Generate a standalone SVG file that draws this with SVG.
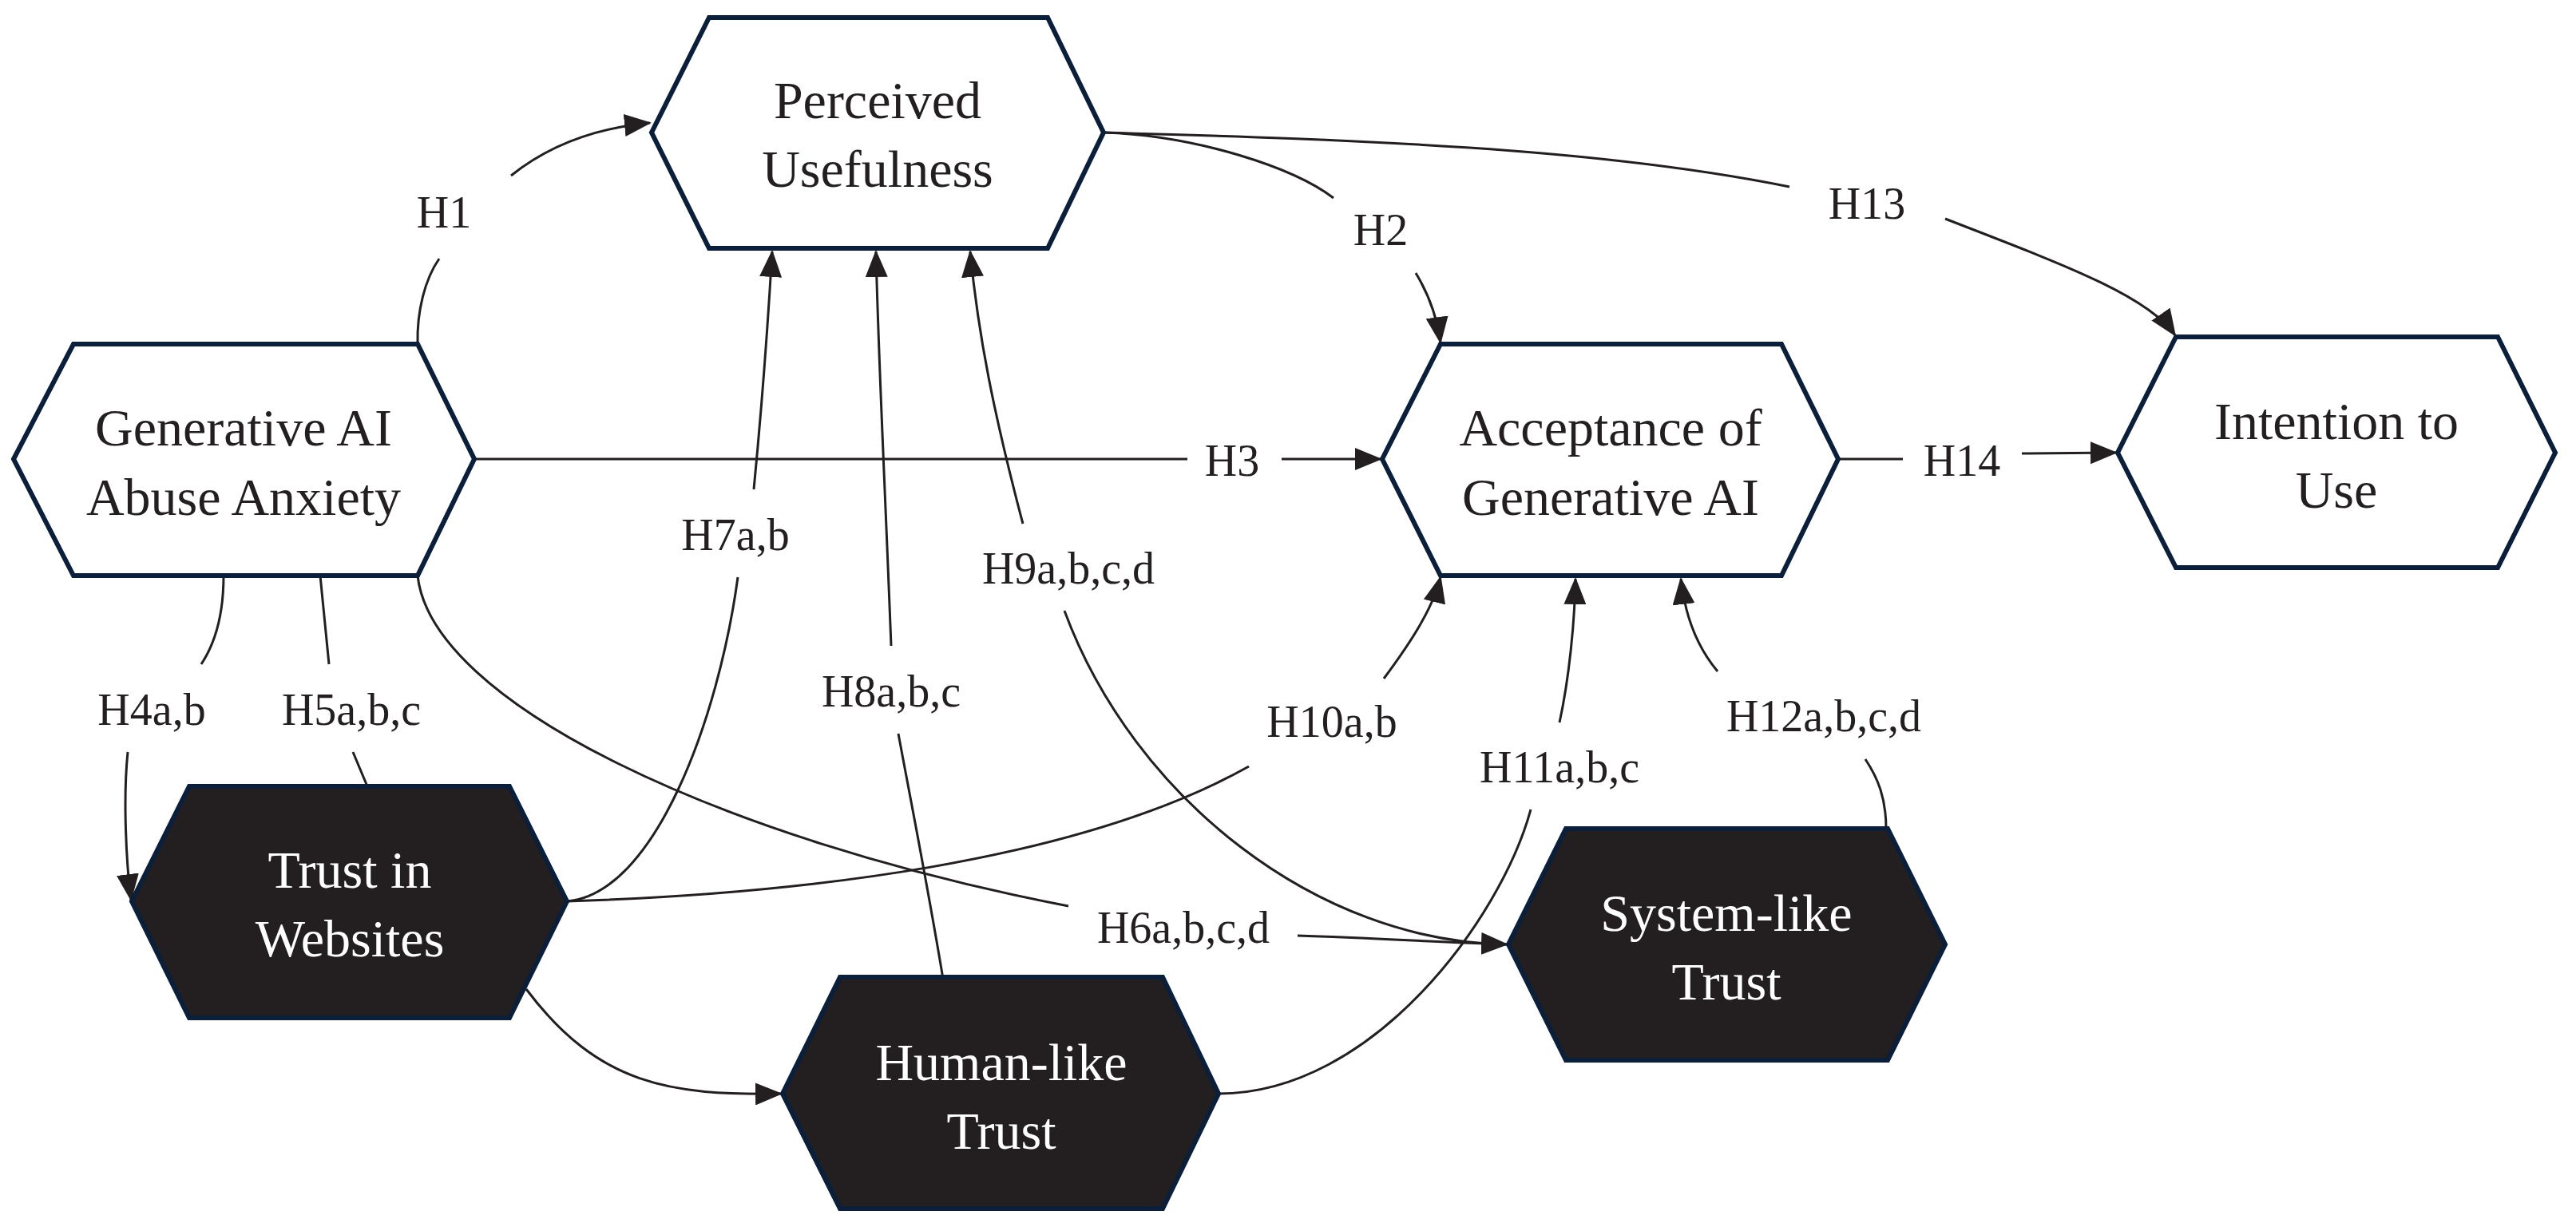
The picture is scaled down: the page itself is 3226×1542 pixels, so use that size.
<svg xmlns="http://www.w3.org/2000/svg" width="3226" height="1542" viewBox="0 0 3226 1542">
<style>
.hex{stroke:#0b1f3a;stroke-width:6;stroke-linejoin:miter}
.w{fill:#ffffff}.d{fill:#231f20}
.nt{font-family:"Liberation Serif",serif;font-size:66px;text-anchor:middle}
.nw{fill:#231f20}.nb{fill:#ffffff}
.lb{font-family:"Liberation Serif",serif;font-size:56px;text-anchor:middle;fill:#231f20}
.c{fill:none;stroke:#231f20;stroke-width:3}
</style>
<defs>
<marker id="a" markerUnits="userSpaceOnUse" markerWidth="34" markerHeight="28" refX="32" refY="14" orient="auto"><path d="M0,0 L34,14 L0,28 Z" fill="#231f20"/></marker>
</defs>
<g id="connectors">
<path class="c" d="M523,431 C522,390 532,350 550,324"/>
<path class="c" d="M640,220 C690,180 750,160 814,154" marker-end="url(#a)"/>
<path class="c" d="M1382,166 C1500,170 1620,210 1670,248"/>
<path class="c" d="M1773,342 C1790,370 1800,400 1804,429" marker-end="url(#a)"/>
<path class="c" d="M1382,166 C1700,175 2000,185 2241,234"/>
<path class="c" d="M2436,274 C2580,330 2690,370 2724,420" marker-end="url(#a)"/>
<path class="c" d="M594,575 L1487,575"/>
<path class="c" d="M1605,575 L1729,575" marker-end="url(#a)"/>
<path class="c" d="M2302,575 L2383,575"/>
<path class="c" d="M2532,568 L2650,567" marker-end="url(#a)"/>
<path class="c" d="M280,721 C280,770 270,805 252,832"/>
<path class="c" d="M160,942 C154,1000 158,1080 164,1127" marker-end="url(#a)"/>
<path class="c" d="M401,721 L412,832"/>
<path class="c" d="M442,942 L460,985"/>
<path class="c" d="M523,721 C540,880 900,1050 1338,1135"/>
<path class="c" d="M1625,1172 C1720,1175 1800,1180 1887,1183" marker-end="url(#a)"/>
<path class="c" d="M710,1129 C820,1120 900,900 924,723"/>
<path class="c" d="M944,613 C955,500 962,400 967,315" marker-end="url(#a)"/>
<path class="c" d="M1181,1226 C1160,1100 1140,1000 1125,919"/>
<path class="c" d="M1116,809 C1108,600 1100,450 1097,315" marker-end="url(#a)"/>
<path class="c" d="M1281,656 C1245,520 1225,420 1215,315" marker-end="url(#a)"/>
<path class="c" d="M1333,765 C1420,1000 1650,1180 1887,1183"/>
<path class="c" d="M710,1129 C1000,1120 1350,1080 1564,960"/>
<path class="c" d="M1733,850 C1770,800 1795,760 1804,723" marker-end="url(#a)"/>
<path class="c" d="M1526,1370 C1720,1370 1880,1150 1917,1014"/>
<path class="c" d="M1953,905 C1965,850 1972,780 1973,725" marker-end="url(#a)"/>
<path class="c" d="M2362,1038 C2362,1000 2352,975 2336,951"/>
<path class="c" d="M2151,841 C2125,810 2110,770 2105,725" marker-end="url(#a)"/>
<path class="c" d="M659,1239 C750,1360 840,1372 978,1370" marker-end="url(#a)"/>
</g>
<g id="pu"><polygon class="hex w" points="888,22 1312,22 1382,166 1312,311 888,311 816,166"/>
<text class="nt nw" x="1099" y="148">Perceived</text><text class="nt nw" x="1099" y="234">Usefulness</text></g>
<g id="ga"><polygon class="hex w" points="92,431 523,431 594,575 523,721 92,721 17,575"/>
<text class="nt nw" x="305" y="558">Generative AI</text><text class="nt nw" x="305" y="645">Abuse Anxiety</text></g>
<g id="aga"><polygon class="hex w" points="1804,431 2231,431 2302,575 2231,721 1804,721 1731,575"/>
<text class="nt nw" x="2017" y="558">Acceptance of</text><text class="nt nw" x="2017" y="645">Generative AI</text></g>
<g id="iu"><polygon class="hex w" points="2725,422 3128,422 3200,567 3128,711 2725,711 2652,567"/>
<text class="nt nw" x="2926" y="550">Intention to</text><text class="nt nw" x="2926" y="636">Use</text></g>
<g id="tw"><polygon class="hex d" points="237,985 638,985 710,1129 638,1275 237,1275 165,1129"/>
<text class="nt nb" x="438" y="1112">Trust in</text><text class="nt nb" x="438" y="1198">Websites</text></g>
<g id="ht"><polygon class="hex d" points="1052,1224 1456,1224 1526,1370 1456,1514 1052,1514 980,1370"/>
<text class="nt nb" x="1254" y="1353">Human-like</text><text class="nt nb" x="1254" y="1439">Trust</text></g>
<g id="st"><polygon class="hex d" points="1961,1038 2364,1038 2436,1183 2364,1328 1961,1328 1889,1183"/>
<text class="nt nb" x="2162" y="1166">System-like</text><text class="nt nb" x="2162" y="1252">Trust</text></g>
<g id="labels">
<text class="lb" x="556" y="285">H1</text>
<text class="lb" x="1729" y="307">H2</text>
<text class="lb" x="2338" y="274">H13</text>
<text class="lb" x="1543" y="596">H3</text>
<text class="lb" x="2457" y="596">H14</text>
<text class="lb" x="921" y="689">H7a,b</text>
<text class="lb" x="1338" y="731">H9a,b,c,d</text>
<text class="lb" x="190" y="908">H4a,b</text>
<text class="lb" x="440" y="908">H5a,b,c</text>
<text class="lb" x="1116" y="885">H8a,b,c</text>
<text class="lb" x="1482" y="1181">H6a,b,c,d</text>
<text class="lb" x="1668" y="923">H10a,b</text>
<text class="lb" x="1953" y="980">H11a,b,c</text>
<text class="lb" x="2284" y="916">H12a,b,c,d</text>
</g>
</svg>
